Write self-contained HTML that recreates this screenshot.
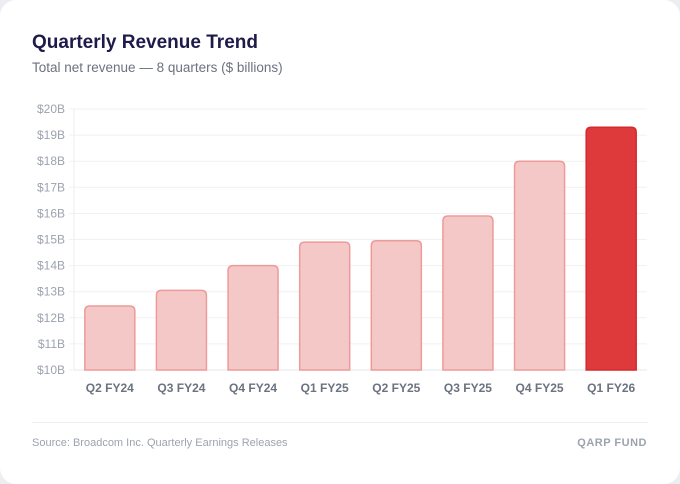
<!DOCTYPE html>
<html><head><meta charset="utf-8"><style>
html,body{margin:0;padding:0;background:#eceef2;}
#card{position:absolute;left:0;top:0;width:680px;height:484px;background:#fff;border-radius:16px;font-family:"Liberation Sans",sans-serif;}
#title{position:absolute;left:32px;top:32px;font-size:19px;font-weight:bold;color:#1e1b4b;}
#sub{position:absolute;left:32px;top:60px;font-size:13.5px;color:#6b7280;}
#foot{position:absolute;left:32px;right:32px;top:422px;border-top:1px solid #eceef2;}
#src{position:absolute;left:32px;top:437px;font-size:11px;color:#9ca3af;}
#brand{position:absolute;right:33px;top:437px;font-size:11px;color:#9ca3af;font-weight:bold;letter-spacing:0.5px;}
svg{position:absolute;left:0;top:0;}
</style></head><body>
<div id="card">
<div id="title">Quarterly Revenue Trend</div>
<div id="sub">Total net revenue — 8 quarters ($ billions)</div>
<svg id="chart" width="680" height="484"></svg>
<div id="foot"></div>
<div id="src">Source: Broadcom Inc. Quarterly Earnings Releases</div>
<div id="brand">QARP FUND</div>
</div>
<script>
const categories=["Q2 FY24","Q3 FY24","Q4 FY24","Q1 FY25","Q2 FY25","Q3 FY25","Q4 FY25","Q1 FY26"];
const revenue=[12.45,13.05,14.0,14.9,14.95,15.9,18.0,19.3];
const ticks=[10,11,12,13,14,15,16,17,18,19,20];
const x0=74,x1=647,yTop=109,yBot=370,vMin=10,vMax=20;
const svg=document.getElementById('chart');
const NS='http://www.w3.org/2000/svg';
function y(v){return yBot-(v-vMin)/(vMax-vMin)*(yBot-yTop);}
const band=(x1-x0)/categories.length;
function xc(i){return x0+band*(i+0.5);}
function mk(t,a){const e=document.createElementNS(NS,t);for(const k in a)e.setAttribute(k,a[k]);svg.appendChild(e);return e;}
ticks.forEach(t=>{
 const g=mk('line',{x1:x0-5,x2:x1,y1:y(t),y2:y(t),stroke:'#f0f1f3','stroke-width':1});
 
 
 const l=mk('text',{x:x0-9,y:y(t)+4,'text-anchor':'end','font-size':12,fill:'#9ca3af','font-family':'Liberation Sans, sans-serif'});
 l.textContent='$'+t+'B';
 
 
});
const ax=mk('line',{x1:x0,x2:x0,y1:yTop,y2:yBot,stroke:'#eceef1'});


const bx=mk('line',{x1:x0,x2:x1,y1:yBot,y2:yBot,stroke:'#e5e7eb'});


revenue.forEach((v,i)=>{
 const last=i===revenue.length-1;
 const w=50,top=y(v);
 const r=mk('path',{d:`M${xc(i)-w/2},${yBot} V${top+5} Q${xc(i)-w/2},${top} ${xc(i)-w/2+5},${top} H${xc(i)+w/2-5} Q${xc(i)+w/2},${top} ${xc(i)+w/2},${top+5} V${yBot} Z`,
  fill:last?'#df3a3b':'#f5c8c8',stroke:last?'#d42a2e':'#ee9a9a','stroke-width':1.5});
 
 
 const t=mk('text',{x:xc(i),y:392,'text-anchor':'middle','font-size':12,'font-weight':'bold',fill:'#6b7280','font-family':'Liberation Sans, sans-serif'});
 t.textContent=categories[i];
 
 
});
</script>
</body></html>
